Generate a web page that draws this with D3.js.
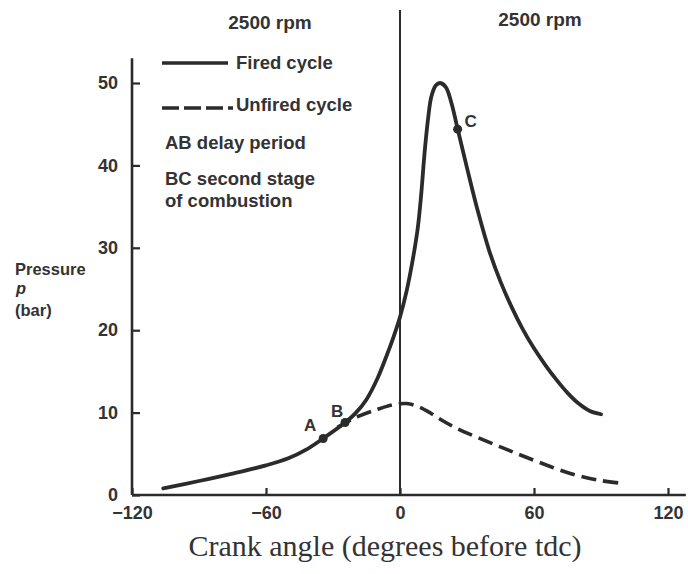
<!DOCTYPE html>
<html>
<head>
<meta charset="utf-8">
<script src="https://cdn.jsdelivr.net/npm/d3@7"></script>
<style>
  body { margin: 0; background: #fff; }
  svg text { font-family: "Liberation Sans", Arial, sans-serif; font-weight: bold; fill: #333; }
</style>
</head>
<body>
<div id="chart"></div>
<script>
// crank angle (deg) vs pressure (bar)
const firedAngle = [-106, -90, -75, -60, -50, -42, -35, -25, -20, -15, -10, -6, -3, 0, 3, 6, 8, 9.5, 11, 12.5, 14, 16, 18, 20.5, 23, 26, 30, 35, 40, 45, 50, 55, 60, 65, 70, 75, 80, 85, 90];
const firedP     = [0.8, 1.7, 2.6, 3.6, 4.45, 5.5, 6.75, 8.7, 9.9, 11.6, 14.2, 16.9, 19.1, 21.6, 24.8, 29, 32.5, 36.5, 41.5, 45.5, 48.3, 49.7, 50, 49.5, 47.6, 44.2, 39.7, 34.3, 29.6, 25.9, 22.8, 20.1, 17.8, 15.8, 14.0, 12.4, 11.1, 10.2, 9.8];
const unfiredAngle = [-28, -19, -10, -3, 3, 8, 13, 18, 25, 35, 48, 62, 77, 90, 100];
const unfiredP     = [8.2, 9.5, 10.4, 10.95, 11.1, 10.75, 10.05, 9.2, 8.15, 6.95, 5.5, 4.0, 2.55, 1.75, 1.4];
const markers = [
  { name: "A", angle: -34.4, p: 6.85 },
  { name: "B", angle: -24.6, p: 8.8 },
  { name: "C", angle: 25.8, p: 44.4 }
];
const xTicks = [-120, -60, 0, 60, 120];
const yTicks = [0, 10, 20, 30, 40, 50];
const legendItems = ["Fired cycle", "Unfired cycle"];
const notes = ["AB delay period", "BC second stage", "of combustion"];

const width = 688, height = 574;
const ink = "#2b2b2b";

const svg = d3.select("#chart").append("svg")
  .attr("width", width)
  .attr("height", height);

const x = d3.scaleLinear().domain([-120, 120]).range([132, 668]);
const y = d3.scaleLinear().domain([0, 50]).range([495, 83]);

// axes
const yAxis = svg.append("g")
  .attr("transform", `translate(${x(-120)},0)`)
  .call(d3.axisLeft(y).tickValues(yTicks).tickSize(-8).tickSizeOuter(0).tickPadding(14));
const xAxis = svg.append("g")
  .attr("transform", `translate(0,${y(0)})`)
  .call(d3.axisBottom(x).tickValues(xTicks).tickSize(-7).tickSizeOuter(0).tickPadding(11)
    .tickFormat(d => d < 0 ? "\u2212" + Math.abs(d) : d));

[xAxis, yAxis].forEach(g => {
  g.select(".domain").remove();
  g.selectAll(".tick line").attr("stroke", ink).attr("stroke-width", 2.2);
  g.selectAll(".tick text").style("font-size", "18px").attr("fill", "#333");
});

svg.append("line")
  .attr("x1", x(-120)).attr("x2", x(128))
  .attr("y1", y(0)).attr("y2", y(0))
  .attr("stroke", ink).attr("stroke-width", 2.6);
svg.append("line")
  .attr("x1", x(-120)).attr("x2", x(-120))
  .attr("y1", y(0)).attr("y2", y(53))
  .attr("stroke", ink).attr("stroke-width", 2.6);

// tdc line
svg.append("line")
  .attr("x1", x(0)).attr("x2", x(0))
  .attr("y1", y(0)).attr("y2", 10)
  .attr("stroke", ink).attr("stroke-width", 2);

const line = d3.line()
  .x(d => x(d[0]))
  .y(d => y(d[1]))
  .curve(d3.curveCatmullRom.alpha(0.5));

svg.append("path")
  .datum(d3.zip(unfiredAngle, unfiredP))
  .attr("d", line)
  .attr("fill", "none")
  .attr("stroke", ink)
  .attr("stroke-width", 3.6)
  .attr("stroke-dasharray", "15,7");

svg.append("path")
  .datum(d3.zip(firedAngle, firedP))
  .attr("d", line)
  .attr("fill", "none")
  .attr("stroke", ink)
  .attr("stroke-width", 3.8)
  .attr("stroke-linecap", "round");

// A, B, C
svg.selectAll(".mark")
  .data(markers)
  .enter().append("circle")
  .attr("class", "mark")
  .attr("cx", d => x(d.angle))
  .attr("cy", d => y(d.p))
  .attr("r", 4.5)
  .attr("fill", ink);

const labelOffset = { A: [-13, -8], B: [-8, -5], C: [13, -2] };
svg.selectAll(".mark-label")
  .data(markers)
  .enter().append("text")
  .attr("class", "mark-label")
  .attr("x", d => x(d.angle) + labelOffset[d.name][0])
  .attr("y", d => y(d.p) + labelOffset[d.name][1])
  .attr("text-anchor", "middle")
  .style("font-size", "17px")
  .text(d => d.name);

// headings
svg.append("text").attr("x", 270).attr("y", 29).attr("text-anchor", "middle")
  .style("font-size", "19px").text("2500 rpm");
svg.append("text").attr("x", 540).attr("y", 26).attr("text-anchor", "middle")
  .style("font-size", "19px").text("2500 rpm");

// legend
const legend = svg.append("g");
legend.append("line").attr("x1", 162).attr("x2", 228).attr("y1", 63).attr("y2", 63)
  .attr("stroke", ink).attr("stroke-width", 3.4);
legend.append("line").attr("x1", 162).attr("x2", 233).attr("y1", 108).attr("y2", 108)
  .attr("stroke", ink).attr("stroke-width", 3.4).attr("stroke-dasharray", "17,5");
legend.selectAll(".leg")
  .data(legendItems)
  .enter().append("text")
  .attr("x", 236)
  .attr("y", (d, i) => 69 + i * 42)
  .style("font-size", "18.5px")
  .text(d => d);
legend.selectAll(".note")
  .data(notes)
  .enter().append("text")
  .attr("x", 165)
  .attr("y", (d, i) => [149, 185, 207][i])
  .style("font-size", "18.5px")
  .text(d => d);

// y title
const yt = svg.append("text").style("font-size", "16.5px");
yt.append("tspan").attr("x", 15).attr("y", 275).text("Pressure");
yt.append("tspan").attr("x", 16).attr("y", 294).style("font-style", "italic").text("p");
yt.append("tspan").attr("x", 15).attr("y", 316).text("(bar)");

// x title
svg.append("text")
  .attr("x", 385).attr("y", 556)
  .attr("text-anchor", "middle")
  .style("font-family", "'Liberation Serif', 'Times New Roman', serif")
  .style("font-weight", "normal")
  .style("font-size", "30px")
  .attr("fill", "#111")
  .text("Crank angle (degrees before tdc)");
</script>
</body>
</html>
